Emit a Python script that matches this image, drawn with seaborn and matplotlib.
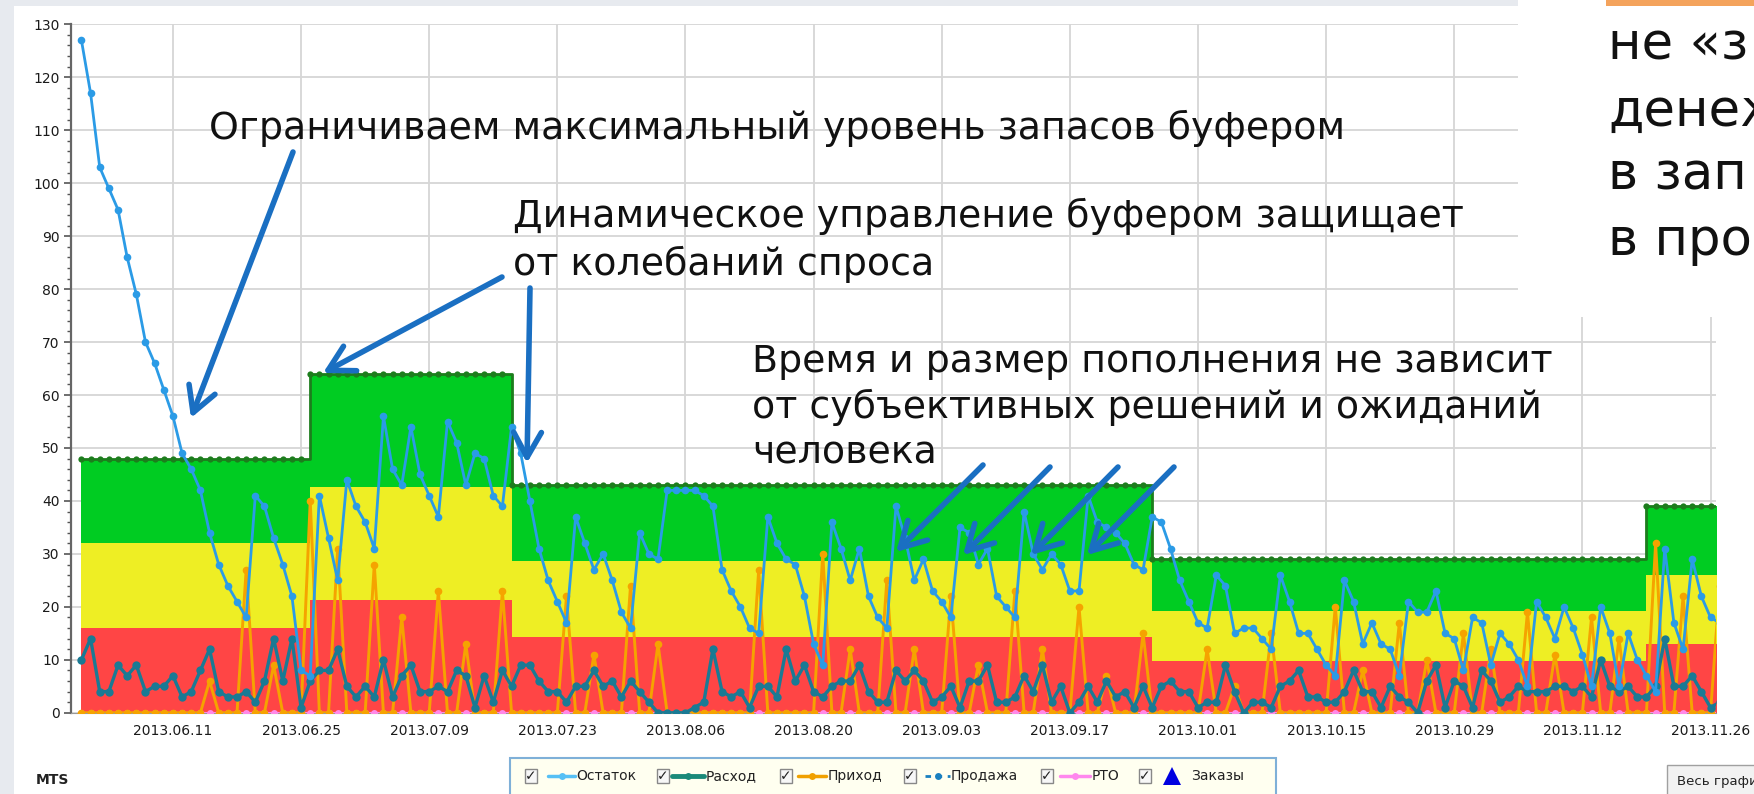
import numpy as np
import pandas as pd
import matplotlib
matplotlib.use("Agg")
import matplotlib.pyplot as plt
from matplotlib.patches import Rectangle, FancyArrowPatch
from matplotlib.lines import Line2D
from matplotlib.ticker import MultipleLocator
import seaborn as sns

W, H = 1754, 794

# ---- data (one value per day from 2013.06.01) ----
start_date = "2013-06-01"

ostatok = [127, 117, 103, 99, 95, 86, 79, 70, 66, 61,
           56, 49, 46, 42, 34, 28, 24, 21, 18, 41,
           39, 33, 28, 22, 8, 7, 41, 33, 25, 44,
           39, 36, 31, 56, 46, 43, 54, 45, 41, 37,
           55, 51, 43, 49, 48, 41, 39, 54, 49, 40,
           31, 25, 21, 17, 37, 32, 27, 30, 25, 19,
           16, 34, 30, 29, 42, 42, 42, 42, 41, 39,
           27, 23, 20, 16, 15, 37, 32, 29, 28, 22,
           13, 9, 36, 31, 25, 31, 22, 18, 16, 39,
           33, 25, 29, 23, 21, 18, 35, 34, 28, 31,
           22, 20, 18, 38, 30, 27, 30, 28, 23, 23,
           41, 36, 35, 34, 32, 28, 27,
           37, 36, 31, 25, 21, 17, 16, 26, 24, 15,
           16, 16, 14, 12, 26, 21, 15, 15, 12, 9,
           7, 25, 21, 13, 17, 13, 12, 7, 21, 19,
           19, 23, 15, 14, 8, 18, 17, 9, 15, 13,
           10, 5, 21, 18, 14, 20, 16, 11, 5, 20,
           15, 5, 15, 10, 7, 4, 31, 17, 12, 29,
           22, 18, 17]

raskhod = [10, 14, 4, 4, 9, 7, 9, 4, 5, 5,
           7, 3, 4, 8, 12, 4, 3, 3, 4, 2,
           6, 14, 6, 14, 1, 6, 8, 8, 12, 5,
           3, 5, 3, 10, 3, 7, 9, 4, 4, 5,
           4, 8, 7, 1, 7, 2, 8, 5, 9, 9,
           6, 4, 4, 2, 5, 5, 8, 5, 6, 3,
           6, 4, 2, 0, 0, 0, 0, 1, 2, 12,
           4, 3, 4, 1, 5, 5, 3, 12, 6, 9,
           4, 3, 5, 6, 6, 9, 4, 2, 2, 8,
           6, 8, 6, 2, 3, 5, 1, 6, 6, 9,
           2, 2, 3, 7, 4, 9, 2, 5, 0, 2,
           5, 2, 6, 3, 4, 1, 5,
           1, 5, 6, 4, 4, 1, 2, 2, 9, 4,
           0, 2, 2, 1, 5, 6, 8, 3, 3, 2,
           2, 4, 8, 4, 4, 1, 5, 3, 2, 0,
           6, 9, 1, 6, 5, 1, 8, 6, 2, 3,
           5, 4, 4, 4, 5, 5, 4, 5, 3, 10,
           5, 4, 5, 3, 3, 5, 14, 5, 5, 7,
           4, 1, 2]

# Приход is zero except on delivery days
prikhod_days = [14, 18, 21, 25, 28, 32, 35, 39, 42, 46, 53, 56, 60, 63, 74, 81,
                84, 88, 91, 95, 98, 102, 105, 109, 112, 116, 123, 126, 130, 137,
                140, 144, 147, 151, 154, 158, 161, 165, 168, 172, 175, 179]
prikhod_vals = [6, 27, 9, 40, 31, 28, 18, 23, 13, 23, 22, 11, 24, 13, 27, 30,
                12, 25, 12, 22, 9, 23, 12, 20, 7, 15, 12, 5, 15, 20,
                8, 17, 10, 15, 12, 19, 11, 18, 14, 32, 22, 24]

rto = [0] * len(ostatok)

# buffer zones: first day of each segment and zone tops
zone_start = [0, 25, 47, 117, 171]
buffer_top = [48, 64, 43, 29, 39]
yellow_top = [32, 42.7, 28.7, 19.3, 26]
red_top = [16, 21.3, 14.3, 9.7, 13]

tick_labels = ["2013.06.11", "2013.06.25", "2013.07.09", "2013.07.23", "2013.08.06",
               "2013.08.20", "2013.09.03", "2013.09.17", "2013.10.01", "2013.10.15",
               "2013.10.29", "2013.11.12", "2013.11.26"]

legend_labels = ["Остаток", "Расход", "Приход", "Продажа", "РТО", "Заказы"]

# ---- build series ----
n = len(ostatok)
dates = pd.date_range(start_date, periods=n, freq="D")
seg_len = np.diff(zone_start + [n])
buf = np.repeat(buffer_top, seg_len)
yel = np.repeat(yellow_top, seg_len)
red = np.repeat(red_top, seg_len)
prikhod = np.zeros(n)
prikhod[prikhod_days] = prikhod_vals
tick_dates = pd.to_datetime(tick_labels, format="%Y.%m.%d")

sns.set_style("white")
plt.rcParams["font.family"] = ["DejaVu Sans"]

fig = plt.figure(figsize=(W / 100, H / 100), dpi=100)
fig.patch.set_facecolor("white")
ax = fig.add_axes([70.8 / W, 1 - 712.8 / H, (1716 - 70.8) / W, (712.8 - 24.3) / H])

# zones
ax.fill_between(dates, 0, red, step="post", color="#ff4545", lw=0, zorder=1)
ax.fill_between(dates, red, yel, step="post", color="#eeee24", lw=0, zorder=1)
ax.fill_between(dates, yel, buf, step="post", color="#00cc22", lw=0, zorder=1)
sns.lineplot(x=dates, y=buf, drawstyle="steps-post", color="#1d7d1d", lw=2,
             marker="o", markersize=4.5, mew=0, ax=ax, zorder=2)

# series
sns.lineplot(x=dates, y=rto, color="#ff88e8", lw=1.5, marker="o", markersize=5,
             mew=0, ax=ax, zorder=3)
sns.lineplot(x=dates, y=prikhod, color="#f5a300", lw=2.1, marker="o", markersize=5.5,
             mew=0, ax=ax, zorder=4)
sns.lineplot(x=dates, y=raskhod, color="#1a7a94", lw=2.4, marker="o", markersize=6,
             mew=0, ax=ax, zorder=5)
sns.lineplot(x=dates, y=ostatok, color="#2b9be6", lw=2, marker="o", markersize=5.5,
             mew=0, ax=ax, zorder=6)

ax.set_xlim(dates[0] - pd.Timedelta(days=1.16), dates[0] + pd.Timedelta(days=178.6))
ax.set_ylim(0, 130)
ax.set_xlabel("")
ax.set_ylabel("")

ax.set_xticks(tick_dates)
ax.set_xticklabels(tick_labels)
ax.set_yticks(np.arange(0, 131, 10))
ax.yaxis.set_minor_locator(MultipleLocator(2))
ax.tick_params(axis="x", length=0, pad=8, labelsize=10, labelcolor="#1a1a1a")
ax.tick_params(axis="y", which="major", left=True, length=5, width=1.2, color="#555",
               labelsize=10, labelcolor="#1a1a1a", pad=3)
ax.tick_params(axis="y", which="minor", left=True, length=3, width=1, color="#555")
ax.grid(True, which="major", color="#d6d6d6", lw=1.3)
ax.set_axisbelow(True)
for s in ["top", "right"]:
    ax.spines[s].set_visible(False)
ax.spines["left"].set_color("#666")
ax.spines["left"].set_linewidth(1.6)
ax.spines["bottom"].set_color("#999")


# ---- overlay drawn in figure pixels (top-left origin) ----
def frect(x0, y0, x1, y1, **kw):
    fig.add_artist(Rectangle((x0 / W, 1 - y1 / H), (x1 - x0) / W, (y1 - y0) / H,
                             transform=fig.transFigure, **kw))


def ftext(x, y, s, **kw):
    fig.text(x / W, 1 - y / H, s, **kw)


def farrow(x0, y0, x1, y1):
    fig.add_artist(FancyArrowPatch((x0 / W, 1 - y0 / H), (x1 / W, 1 - y1 / H),
                                   transform=fig.transFigure,
                                   arrowstyle="->,head_length=0.9,head_width=0.5",
                                   mutation_scale=20, lw=4, color="#1a6fc2",
                                   shrinkA=0, shrinkB=0, zorder=12))


frect(0, 0, 14.5, 794, fc="#e7eaef", lw=0, zorder=9)
frect(0, 0, 1518, 6, fc="#e7eaef", lw=0, zorder=9)
frect(1518, 0, 1754, 317, fc="white", lw=0, zorder=10)
frect(1606, 0, 1754, 6, fc="#f4a35c", lw=0, zorder=11)

big = dict(fontsize=27.3, va="baseline", color="#111", zorder=13)
ftext(208.6, 139, "Ограничиваем максимальный уровень запасов буфером", **big)
ftext(512.8, 227, "Динамическое управление буфером защищает", **big)
ftext(512.8, 275, "от колебаний спроса", **big)
ftext(752, 372, "Время и размер пополнения не зависит", **big)
ftext(752, 417.5, "от субъективных решений и ожиданий", **big)
ftext(752, 463, "человека", **big)

# text block at the right edge is cut off by the screenshot border, as in the source
side = dict(fontsize=37, va="baseline", color="#111", zorder=13)
for yb, s in zip([60, 126, 190, 255], ["не «з", "денеж", "в зап", "в про"]):
    ftext(1608, yb, s, **side)

farrow(293, 152, 191, 418)
farrow(502, 277, 323, 373)
farrow(530, 288, 527, 463)
farrow(983, 465, 896, 552)
farrow(1050, 467, 963, 555)
farrow(1118, 467, 1031, 555)
farrow(1174, 467, 1087, 555)

# legend strip
frect(510, 758, 1276, 800, fc="#fffff0", ec="#7fb0d8", lw=1.5, zorder=10)
cb_x = [525, 657, 780, 904, 1041, 1139]
handle_x = [(548, 575), (672, 704), (798, 826), (925, 950), (1060, 1090), (1165, 1179)]
label_x = [576, 706, 828, 951, 1092, 1191]
styles = [dict(color="#56c0f5", lw=2.5, marker="o", ms=5),
          dict(color="#1a8a7a", lw=3.5, marker="o", ms=5),
          dict(color="#f0a000", lw=2.5, marker="o", ms=5),
          dict(color="#1a80c0", lw=2, ls=(0, (2, 2)), marker="o", ms=5),
          dict(color="#ff88ee", lw=2.5, marker="o", ms=5),
          dict(color="#0000e0", lw=0, marker="^", ms=13)]
yl = 1 - 776 / H
for cx, (h0, h1), lx, st, lab in zip(cb_x, handle_x, label_x, styles, legend_labels):
    frect(cx, 769, cx + 12, 783, fc="#f7f7f7", ec="#888", lw=1, zorder=11)
    ftext(cx + 6, 776, "✓", fontsize=10, ha="center", va="center", color="#222", zorder=12)
    fig.add_artist(Line2D([h0 / W, (h0 + h1) / 2 / W, h1 / W], [yl, yl, yl],
                          transform=fig.transFigure, markevery=[1], mew=0,
                          zorder=12, **st))
    ftext(lx, 776, lab, fontsize=10, va="center", color="#222", zorder=12)

ftext(36, 780, "MTS", fontsize=10, fontweight="bold", va="center", color="#222")
frect(1667, 765, 1760, 800, fc="#f2f2f2", ec="#a0a0a0", lw=1, zorder=10)
ftext(1677, 781, "Весь график", fontsize=9.5, va="center", color="#222", zorder=11)

fig.savefig("out.png", dpi=100)
